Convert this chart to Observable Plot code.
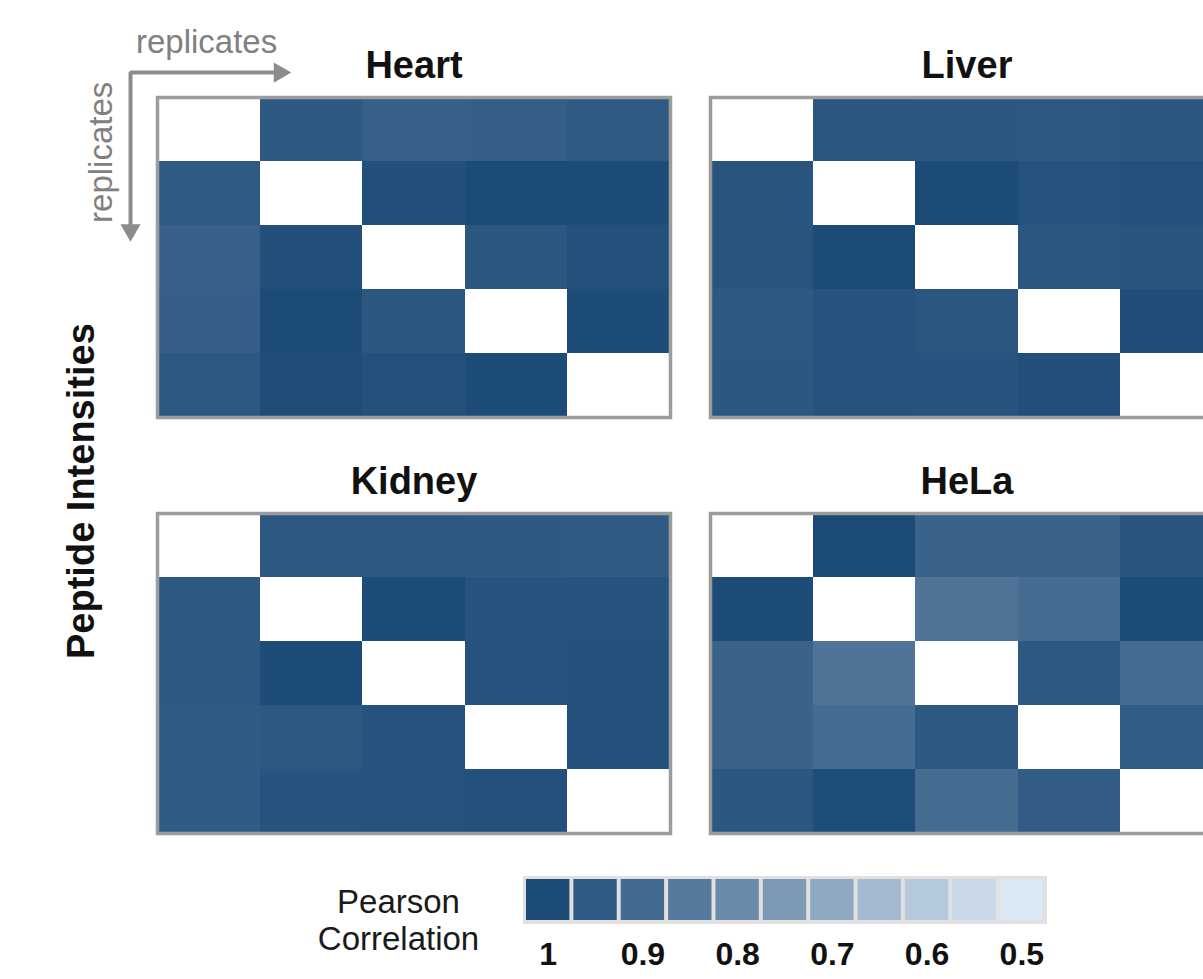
<!DOCTYPE html>
<html><head><meta charset="utf-8">
<script src="https://cdn.jsdelivr.net/npm/d3@7"></script>
<script src="https://cdn.jsdelivr.net/npm/@observablehq/plot@0.6"></script>
<style>
html,body{margin:0;padding:0;background:#fff;overflow:hidden;}
#chart{width:1223px;}
#chart svg{display:block;}
</style></head><body><div id="chart"></div>
<script>
// ---- data ----
const tissues = ["Heart", "Liver", "Kidney", "HeLa"];
const facetCol = [0, 1, 0, 1];
const facetRow = [0, 0, 1, 1];
const heart = [
  [null, 0.955, 0.934, 0.937, 0.953],
  [0.953, null, 0.984, 1.000, 0.997],
  [0.934, 0.984, null, 0.963, 0.982],
  [0.937, 1.000, 0.963, null, 0.997],
  [0.958, 0.995, 0.982, 0.997, null]
];
const liver = [
  [null, 0.966, 0.963, 0.958, 0.963],
  [0.971, null, 1.000, 0.976, 0.982],
  [0.971, 1.000, null, 0.966, 0.968],
  [0.960, 0.974, 0.966, null, 0.992],
  [0.963, 0.976, 0.974, 0.990, null]
];
const kidney = [
  [null, 0.958, 0.958, 0.955, 0.950],
  [0.960, null, 0.997, 0.974, 0.976],
  [0.960, 0.997, null, 0.976, 0.982],
  [0.950, 0.960, 0.976, null, 0.982],
  [0.950, 0.974, 0.976, 0.982, null]
];
const hela = [
  [null, 1.000, 0.924, 0.924, 0.971],
  [0.997, null, 0.868, 0.895, 0.997],
  [0.924, 0.868, null, 0.958, 0.895],
  [0.924, 0.895, 0.958, null, 0.947],
  [0.963, 0.994, 0.895, 0.945, null]
];
const matrices = [heart, liver, kidney, hela];
const legendValues = [1, 0.95, 0.9, 0.85, 0.8, 0.75, 0.7, 0.65, 0.6, 0.55, 0.5];
const legendLabels = [1, 0.9, 0.8, 0.7, 0.6, 0.5];
const colorRange = ["#dbe8f5", "#1d4b77"];

// annotation path in cell units of the Heart panel
const arrowPath = [
  {x: 1.19, y: -0.39},
  {x: -0.263, y: -0.39},
  {x: -0.263, y: 2.07}
];
const arrowHeads = [
  {x: 1.19, y: -0.39, rotate: 90},
  {x: -0.263, y: 2.07, rotate: 180}
];

// ---- build ----
const cells = [];
matrices.forEach((m, k) => m.forEach((row, i) => row.forEach((v, j) => {
  if (v != null) cells.push({fx: facetCol[k], fy: facetRow[k], i, j, v});
})));
const titles = tissues.map((name, k) => ({name, fx: facetCol[k], fy: facetRow[k]}));
const heartFacet = [{fx: 0, fy: 0}];
const inHeart = d => ({...d, fx: 0, fy: 0});

const color = {type: "linear", domain: [0.5, 1], range: colorRange, interpolate: "rgb"};
const gray = "#8c8c8c";
const font = "'Liberation Sans', Arial, Helvetica, sans-serif";

const main = Plot.plot({
  width: 1223, height: 853,
  marginLeft: 157, marginRight: 0, marginTop: 97, marginBottom: 20,
  style: {fontFamily: font, background: "white", overflow: "visible"},
  fx: {domain: [0, 1], paddingInner: 40 / 553, paddingOuter: 0, round: false, axis: null},
  fy: {domain: [0, 1], paddingInner: 96 / 416, paddingOuter: 0, round: false, axis: null},
  x: {domain: [0, 5], axis: null},
  y: {domain: [0, 5], reverse: true, axis: null},
  color,
  marks: [
    Plot.rect(cells, {x1: "j", x2: d => d.j + 1, y1: "i", y2: d => d.i + 1, fill: "v", fx: "fx", fy: "fy",
      shapeRendering: "crispEdges"}),
    Plot.frame({stroke: "#9c9c9c", strokeWidth: 3.5}),
    Plot.text(titles, {x: 2.5, y: -0.5, text: "name", fx: "fx", fy: "fy",
      fontSize: 38, fontWeight: "bold", fill: "#111", lineAnchor: "middle"}),
    Plot.line(arrowPath.map(inHeart), {x: "x", y: "y", fx: "fx", fy: "fy",
      stroke: gray, strokeWidth: 4, strokeLinejoin: "miter", curve: "linear"}),
    Plot.dot(arrowHeads.map(inHeart), {x: "x", y: "y", fx: "fx", fy: "fy", rotate: "rotate",
      symbol: "triangle", r: 7.5, fill: gray, stroke: "none"}),
    Plot.text(heartFacet, {x: 0.478, y: -0.857, fx: "fx", fy: "fy", text: () => "replicates",
      fontSize: 33, fill: "#808080", lineAnchor: "middle"}),
    Plot.text(heartFacet, {x: -0.546, y: 0.857, fx: "fx", fy: "fy", text: () => "replicates",
      rotate: -90, fontSize: 33, fill: "#808080", lineAnchor: "middle"}),
    Plot.text(heartFacet, {x: -0.741, y: 6.15, fx: "fx", fy: "fy", text: () => "Peptide Intensities",
      rotate: -90, fontSize: 38, fontWeight: "bold", fill: "#111", lineAnchor: "middle"})
  ]
});

const legend = Plot.plot({
  width: 1203, height: 126,
  marginLeft: 524, marginRight: 158, marginTop: 24, marginBottom: 57,
  style: {fontFamily: font, background: "white", overflow: "visible"},
  x: {type: "band", domain: legendValues, padding: 0, round: false, axis: null},
  color,
  marks: [
    Plot.frame({fill: "#e0e0e0", inset: -1.5}),
    Plot.cell(legendValues, {x: d => d, fill: d => d, inset: 2}),
    Plot.text(legendLabels, {x: d => d, text: d => String(d), frameAnchor: "bottom", dy: 32,
      fontSize: 32, fontWeight: "bold", fill: "#111", lineAnchor: "middle"}),
    Plot.text(["Pearson\nCorrelation"], {text: d => d, frameAnchor: "left", dx: -126, dy: 20,
      textAnchor: "middle", lineAnchor: "middle", lineHeight: 1.1, fontSize: 33, fill: "#1a1a1a"})
  ]
});

const root = document.getElementById("chart");
root.appendChild(main);
root.appendChild(legend);
</script>
</body></html>
